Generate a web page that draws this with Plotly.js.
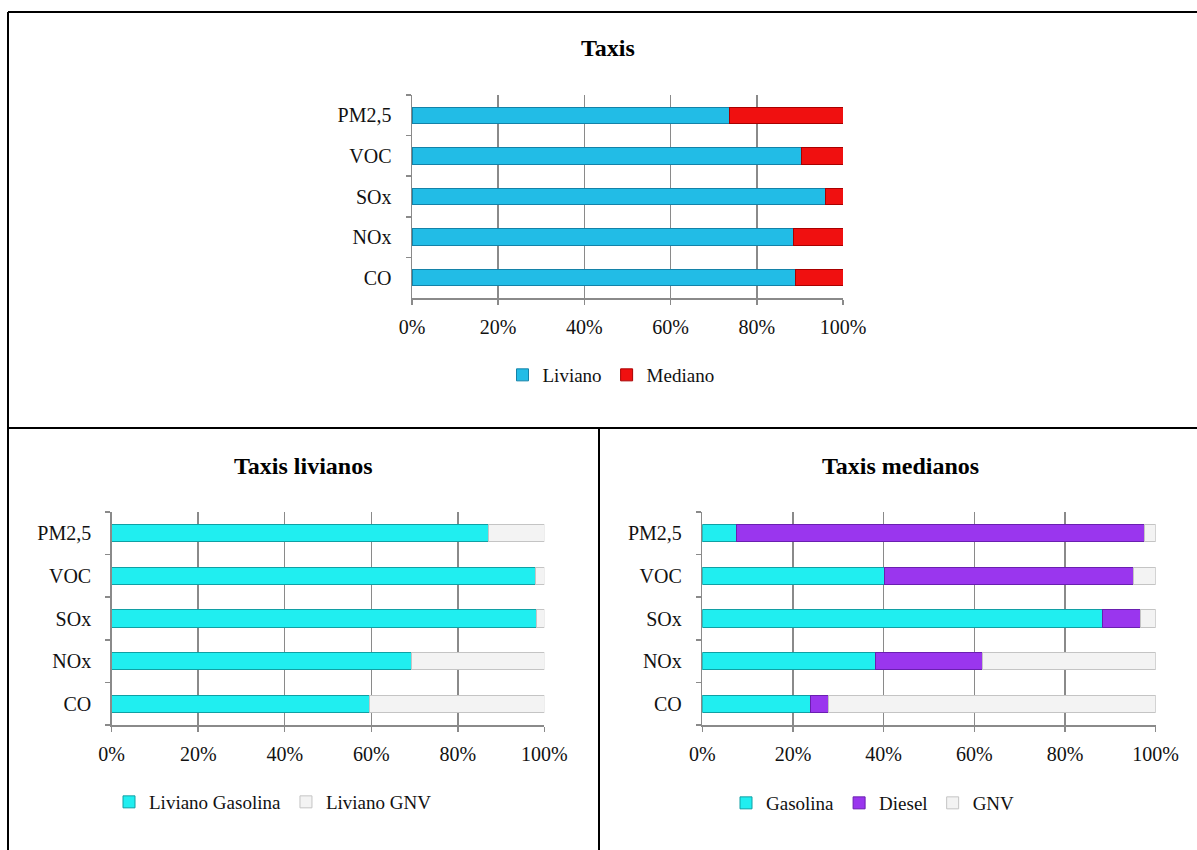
<!DOCTYPE html>
<html>
<head>
<meta charset="utf-8">
<script src="https://cdn.plot.ly/plotly-3.0.1.min.js"></script>
<style>
html,body{margin:0;padding:0;background:#fff;}
#chart{width:1197px;height:850px;}
</style>
</head>
<body>
<div id="chart"></div>
<script>
// Categories (bottom to top)
const categories = ["CO", "NOx", "SOx", "VOC", "PM2,5"];

// Taxis (top chart)
const taxisLiviano = [88.9, 88.6, 95.9, 90.3, 73.6];
const taxisMediano = [11.1, 11.4, 4.1, 9.7, 26.4];

// Taxis livianos (bottom left)
const livianoGasolina = [59.7, 69.2, 98.2, 97.9, 87.1];
const livianoGNV = [40.3, 30.8, 1.8, 2.1, 12.9];

// Taxis medianos (bottom right)
const medianoGasolina = [23.9, 38.2, 88.3, 40.2, 7.6];
const medianoDiesel = [4.0, 23.6, 8.3, 54.8, 90.0];
const medianoGNV = [72.1, 38.2, 3.4, 5.0, 2.4];

const xTicks = [0, 20, 40, 60, 80, 100];
const titles = ["Taxis", "Taxis livianos", "Taxis medianos"];

const W = 1197, H = 850;
const px = v => v / W;
const py = v => 1 - v / H;
const FONT = "Liberation Serif, Times New Roman, serif";

function bar(name, x, color, line, xa, ya, legend) {
  return {
    type: "bar", orientation: "h", name: name, x: x, y: categories,
    xaxis: xa, yaxis: ya, legend: legend,
    marker: {color: color, line: {color: line, width: 1}},
    hoverinfo: "x+y+name"
  };
}

const data = [
  bar("Liviano", taxisLiviano, "#22bce6", "#1482a8", "x", "y", "legend"),
  bar("Mediano", taxisMediano, "#f01010", "#a80000", "x", "y", "legend"),
  bar("Liviano Gasolina", livianoGasolina, "#20eef0", "#10a0a4", "x2", "y2", "legend2"),
  bar("Liviano GNV", livianoGNV, "#f3f3f3", "#c4c4c4", "x2", "y2", "legend2"),
  bar("Gasolina", medianoGasolina, "#20eef0", "#10a0a4", "x3", "y3", "legend3"),
  bar("Diesel", medianoDiesel, "#9a36ee", "#6a1fb0", "x3", "y3", "legend3"),
  bar("GNV", medianoGNV, "#f3f3f3", "#c4c4c4", "x3", "y3", "legend3")
];

function xaxis(dom, anchor) {
  return {
    domain: dom, anchor: anchor, range: [0, 100],
    tickvals: xTicks, ticktext: xTicks.map(v => v + "%"),
    showgrid: true, gridcolor: "#8a8a8a", gridwidth: 1.5,
    showline: true, linecolor: "#8a8a8a", linewidth: 1.5,
    ticks: "outside", ticklen: 5, tickcolor: "#8a8a8a", tickwidth: 1.5,
    ticklabelstandoff: 5,
    zeroline: false, fixedrange: true,
    tickfont: {family: FONT, size: 20, color: "#111"}
  };
}
function yaxis(dom, anchor) {
  return {
    domain: dom, anchor: anchor, type: "category",
    range: [-0.5, 4.5],
    showgrid: false, showline: true, linecolor: "#8a8a8a", linewidth: 1.5,
    ticks: "outside", tickson: "boundaries", ticklen: 5, tickcolor: "#8a8a8a", tickwidth: 1.5,
    ticklabelstandoff: 15,
    fixedrange: true,
    tickfont: {family: FONT, size: 20, color: "#111"}
  };
}

function legend(xc, yc) {
  return {
    orientation: "h", x: px(xc), y: py(yc), xanchor: "center", yanchor: "middle",
    font: {family: FONT, size: 19, color: "#111"}, itemwidth: 30,
    bgcolor: "rgba(0,0,0,0)", traceorder: "normal"
  };
}

function titleAnn(text, xc, yc) {
  return {
    text: "<b>" + text + "</b>", xref: "paper", yref: "paper",
    x: px(xc), y: py(yc), xanchor: "center", yanchor: "middle",
    showarrow: false, font: {family: FONT, size: 24, color: "#000"}
  };
}

function lineShape(x0, y0, x1, y1) {
  return {type: "line", xref: "paper", yref: "paper",
    x0: px(x0), y0: py(y0), x1: px(x1), y1: py(y1),
    line: {color: "#000", width: 2}, layer: "above"};
}

const layout = {
  width: W, height: H,
  margin: {l: 0, r: 0, t: 0, b: 0},
  paper_bgcolor: "#fff", plot_bgcolor: "#fff",
  barmode: "stack", bargap: 0.6,
  showlegend: true,
  xaxis: xaxis([px(412), px(843)], "y"),
  yaxis: yaxis([py(298), py(95)], "x"),
  xaxis2: xaxis([px(111.7), px(544.3)], "y2"),
  yaxis2: yaxis([py(725), py(512)], "x2"),
  xaxis3: xaxis([px(702.3), px(1155.7)], "y3"),
  yaxis3: yaxis([py(725), py(512)], "x3"),
  legend: legend(611, 375),
  legend2: legend(273, 802),
  legend3: legend(873, 803),
  annotations: [
    titleAnn(titles[0], 608, 48),
    titleAnn(titles[1], 303, 466),
    titleAnn(titles[2], 900, 466)
  ],
  shapes: [
    lineShape(8, 12, 1197, 12),
    lineShape(8, 12, 8, 850),
    lineShape(8, 428, 1197, 428),
    lineShape(599, 428, 599, 850)
  ]
};

Plotly.newPlot("chart", data, layout, {displayModeBar: false, staticPlot: true});
</script>
</body>
</html>
